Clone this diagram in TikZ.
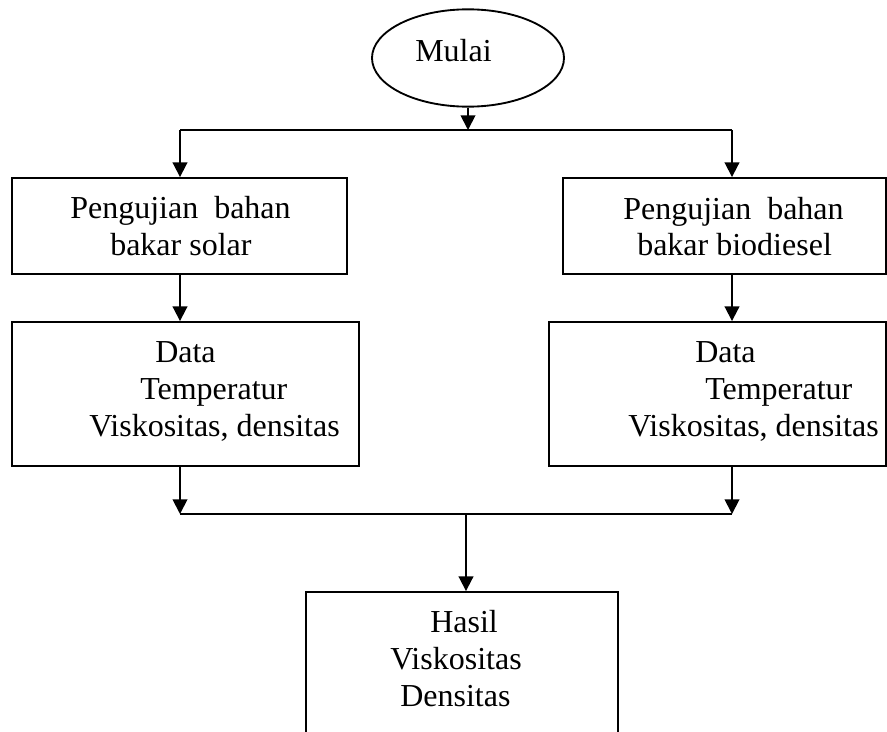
\documentclass[tikz,border=0pt]{standalone}
\usepackage{fontspec}
\setmainfont{Liberation Serif}
\usetikzlibrary{arrows.meta,shapes.geometric}
\begin{document}
\begin{tikzpicture}[x=0.75pt,y=-0.75pt,
  box/.style={draw, line width=1.4pt, rectangle, inner sep=0pt},
  oval/.style={draw, line width=1.4pt, ellipse, inner sep=0pt},
  txt/.style={inner sep=0pt, font=\fontsize{24}{27}\selectfont, anchor=base west},
  arr/.style={line width=1.4pt, -{Triangle[length=11pt,width=11pt]}},
  ln/.style={line width=1.4pt}]
\useasboundingbox (0,0) rectangle (887,731);
\clip (0,0) rectangle (887,731);

% shapes
\node[oval, minimum width=144pt, minimum height=73pt] (start) at (468,58) {};
\node[box, minimum width=251.25pt, minimum height=72pt] (l1) at (179.5,226) {};
\node[box, minimum width=242.25pt, minimum height=72pt] (r1) at (724.5,226) {};
\node[box, minimum width=260.25pt, minimum height=108pt] (l2) at (185.5,394) {};
\node[box, minimum width=252.75pt, minimum height=108pt] (r2) at (717.5,394) {};
\node[box, minimum width=234pt, minimum height=141pt] (res) at (462,686) {};

% texts
\node[txt] (tstart) at (415,62) {Mulai};
\node[txt] (tl1a) at (70,218) {Pengujian\ \ bahan};
\node[txt] (tl1b) at (110,255) {bakar solar};
\node[txt] (tr1a) at (623,219) {Pengujian\ \ bahan};
\node[txt] (tr1b) at (637,255) {bakar biodiesel};
\node[txt] (tl2a) at (155,362) {Data};
\node[txt] (tl2b) at (140,399) {Temperatur};
\node[txt] (tl2c) at (89,436) {Viskositas, densitas};
\node[txt] (tr2a) at (695,362) {Data};
\node[txt] (tr2b) at (705,399) {Temperatur};
\node[txt] (tr2c) at (628,436) {Viskositas, densitas};
\node[txt] (tres1) at (430,632) {Hasil};
\node[txt] (tres2) at (390,669) {Viskositas};
\node[txt] (tres3) at (400,706) {Densitas};

% junction coordinates
\coordinate (split) at (468,130);
\coordinate (tl) at (180,130);
\coordinate (tr) at (732,130);
\coordinate (ml) at (180,514);
\coordinate (mr) at (732,514);
\coordinate (merge) at (466,514);

% connectors
\draw[arr] (start.south) -- (split);
\draw[ln] (tl) -- (tr);
\draw[arr] (tl) -- (tl |- l1.north);
\draw[arr] (tr) -- (tr |- r1.north);
\draw[arr] (tl |- l1.south) -- (tl |- l2.north);
\draw[arr] (tr |- r1.south) -- (tr |- r2.north);
\draw[arr] (tl |- l2.south) -- (ml);
\draw[arr] (tr |- r2.south) -- (mr);
\draw[ln] (ml) -- (mr);
\draw[arr] (merge) -- (merge |- res.north);
\end{tikzpicture}
\end{document}
